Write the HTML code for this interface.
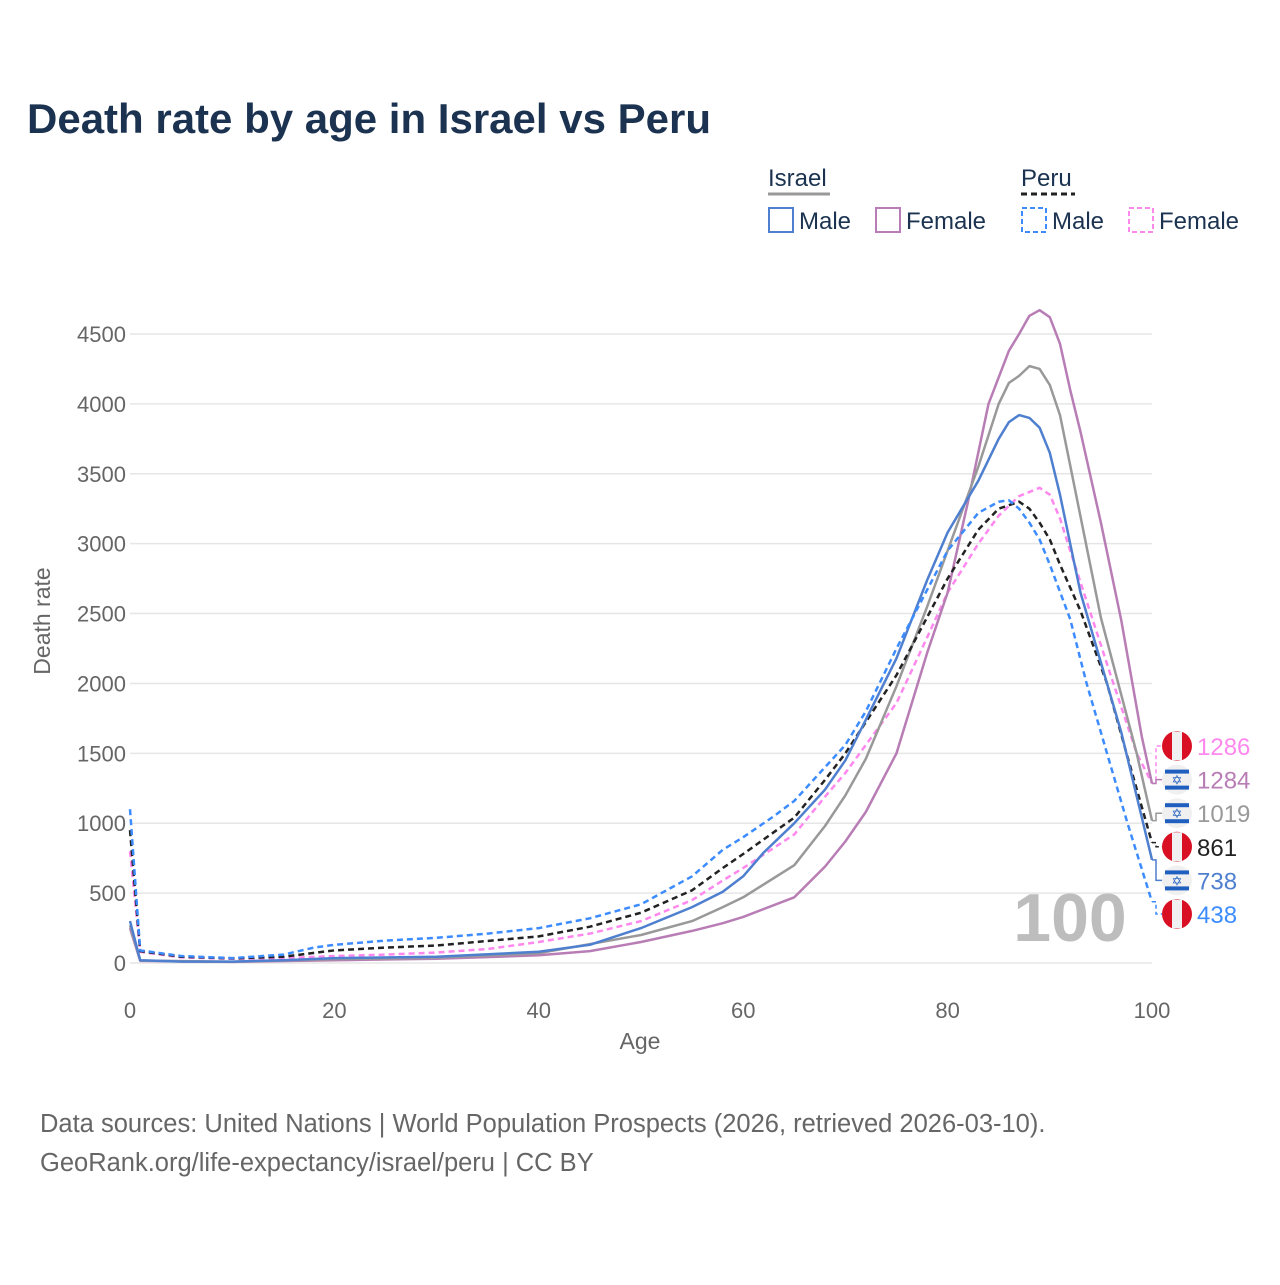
<!DOCTYPE html>
<html><head><meta charset="utf-8"><style>
body{margin:0;background:#fff;font-family:"Liberation Sans",sans-serif;}
svg text{font-family:"Liberation Sans",sans-serif;}
</style></head><body>
<svg id="chart" width="1280" height="1280" viewBox="0 0 1280 1280">
<text x="27" y="133" font-size="42" font-weight="bold" fill="#1b3350">Death rate by age in Israel vs Peru</text>
<g>
<text x="768" y="186" font-size="24" fill="#1b3350">Israel</text>
<line x1="768" y1="194" x2="830" y2="194" stroke="#999" stroke-width="3"/>
<text x="1021" y="186" font-size="24" fill="#1b3350">Peru</text>
<line x1="1021" y1="194" x2="1075" y2="194" stroke="#222" stroke-width="3" stroke-dasharray="6,4"/>
<g><rect x="769" y="208" width="24" height="24" fill="none" stroke="#4f7fcf" stroke-width="2"/><text x="799" y="229" font-size="24" fill="#1b3350">Male</text></g>
<g><rect x="876" y="208" width="24" height="24" fill="none" stroke="#b87db5" stroke-width="2"/><text x="906" y="229" font-size="24" fill="#1b3350">Female</text></g>
<g><rect x="1022" y="208" width="24" height="24" fill="none" stroke="#3d8cff" stroke-width="2" stroke-dasharray="5,3"/><text x="1052" y="229" font-size="24" fill="#1b3350">Male</text></g>
<g><rect x="1129" y="208" width="24" height="24" fill="none" stroke="#ff88ee" stroke-width="2" stroke-dasharray="5,3"/><text x="1159" y="229" font-size="24" fill="#1b3350">Female</text></g>
</g>
<g id="grid"></g>
<g id="series"></g>
<text x="1070" y="941" font-size="68" font-weight="bold" fill="#bdbdbd" text-anchor="middle">100</text>
<g id="labels"></g>
<text x="640" y="1049" font-size="23" fill="#666" text-anchor="middle">Age</text>
<text transform="translate(50,621) rotate(-90)" font-size="23" fill="#666" text-anchor="middle">Death rate</text>
<text x="40" y="1132" font-size="25.5" fill="#666">Data sources: United Nations | World Population Prospects (2026, retrieved 2026-03-10).</text>
<text x="40" y="1171" font-size="25.5" fill="#666">GeoRank.org/life-expectancy/israel/peru | CC BY</text>
</svg>
<script>
const xTicks=[0,20,40,60,80,100];
const yTicks=[0,500,1000,1500,2000,2500,3000,3500,4000,4500];
const ilMaleAges=[0,1,5,10,15,20,30,40,45,50,55,58,60,62,65,68,70,72,75,78,80,83,85,86,87,88,89,90,91,92,93,95,97,100];
const ilMaleVals=[300,20,10,10,20,35,45,80,130,250,400,510,620,790,1000,1240,1450,1740,2180,2740,3080,3450,3750,3870,3920,3900,3830,3650,3350,3000,2650,2150,1650,738];
const ilFemaleAges=[0,1,10,20,30,40,45,50,55,58,60,65,68,70,72,75,78,80,82,84,86,87,88,89,90,91,92,93,95,97,99,100];
const ilFemaleVals=[250,15,8,20,30,55,85,150,230,285,330,470,690,870,1080,1500,2220,2650,3300,4000,4380,4500,4630,4670,4620,4430,4100,3800,3150,2450,1620,1284];
const ilTotalAges=[0,1,10,20,30,40,50,55,58,60,65,68,70,72,75,78,80,83,85,86,87,88,89,90,91,92,95,98.5,100];
const ilTotalVals=[270,18,9,28,38,70,200,300,400,470,700,980,1200,1460,1980,2550,2950,3550,4000,4150,4200,4270,4250,4135,3920,3560,2470,1500,1019];
const peMaleAges=[0,1,5,10,15,18,20,25,30,35,40,45,50,55,58,60,63,65,67,70,72,75,80,83,85,86,87,88,89,90,92,93.6,95.6,97.6,100];
const peMaleVals=[1100,90,50,35,60,110,130,160,180,210,250,320,420,620,810,900,1050,1160,1320,1560,1800,2250,2950,3220,3300,3310,3250,3150,3030,2850,2460,2000,1500,1000,438];
const peFemaleAges=[0,1,5,10,15,20,25,30,35,40,45,50,55,58,60,65,68,70,75,78,80,83,85,87,89,90,91,92,94,96,98.5,100];
const peFemaleVals=[800,80,40,30,35,50,60,75,100,150,210,300,450,590,680,920,1190,1360,1860,2330,2650,3000,3200,3340,3400,3350,3180,2950,2500,2050,1500,1286];
const peTotalAges=[0,1,5,10,15,20,25,30,40,45,50,55,58,60,65,68,70,75,80,83,85,87,88,89,90,91,93,95.6,97.5,100];
const peTotalVals=[950,85,45,33,45,90,110,125,190,260,360,520,680,780,1040,1310,1500,2060,2750,3100,3250,3300,3250,3150,3030,2850,2520,2000,1500,861];
const endLabels=["1286","1284","1019","861","738","438"];

const NS="http://www.w3.org/2000/svg";
const X=a=>130+a*(1022/100);
const Y=v=>963-v*(629/4500);
function mk(t,attrs,parent){const e=document.createElementNS(NS,t);for(const k in attrs)e.setAttribute(k,attrs[k]);parent.appendChild(e);return e;}
const grid=document.getElementById('grid');
yTicks.forEach(v=>{
  const l=mk('line',{x1:130,x2:1152,y1:Y(v),y2:Y(v),stroke:'#e6e6e6','stroke-width':1.5},grid);
  
  
  const t=mk('text',{x:126,y:Y(v)+8,'font-size':22,fill:'#666','text-anchor':'end'},grid);
  t.textContent=v;
  
  
});
xTicks.forEach(a=>{
  const t=mk('text',{x:X(a),y:1018,'font-size':22,fill:'#666','text-anchor':'middle'},grid);
  t.textContent=a;
  
  
});
const series=document.getElementById('series');
const defs=[
 [peFemaleAges,peFemaleVals,'#ff88ee','6,4','peru-female-line'],
 [ilFemaleAges,ilFemaleVals,'#b87db5','','israel-female-line'],
 [ilTotalAges,ilTotalVals,'#999999','','israel-total-line'],
 [peTotalAges,peTotalVals,'#222222','6,4','peru-total-line'],
 [ilMaleAges,ilMaleVals,'#4f7fcf','','israel-male-line'],
 [peMaleAges,peMaleVals,'#3d8cff','6,4','peru-male-line']];
defs.forEach(d=>{
  const pts=d[0].map((a,i)=>X(a).toFixed(1)+','+Y(d[1][i]).toFixed(1)).join(' ');
  const p=mk('polyline',{points:pts,fill:'none',stroke:d[2],'stroke-width':2.5,'stroke-dasharray':d[3]||'none','stroke-linejoin':'round'},series);
  
  
});
const labels=document.getElementById('labels');
const labColors=['#ff88ee','#b87db5','#999999','#222222','#4f7fcf','#3d8cff'];
const labDash=['4,3','','','4,3','','4,3'];
const labFlag=['pe','il','il','pe','il','pe'];
const endVals=[1286,1284,1019,861,738,438];
endLabels.forEach((txt,i)=>{
  const ly=746+i*33.6;
  const ey=Y(endVals[i]);
  const c=mk('polyline',{points:`1152,${ey} 1156,${ey} 1156,${ly} 1162,${ly}`,fill:'none',stroke:labColors[i],'stroke-width':1.5,'stroke-dasharray':labDash[i]||'none'},labels);
  
  
  const g=mk('g',{},labels);
  
  
  const cx=1177;
  if(labFlag[i]==='pe'){
    mk('circle',{cx:cx,cy:ly,r:15,fill:'#d91023'},g);
    mk('rect',{x:cx-5,y:ly-14.5,width:10,height:29,fill:'#f0f0f0'},g);
  }else{
    mk('circle',{cx:cx,cy:ly,r:15,fill:'#f0f0f0'},g);
    mk('rect',{x:cx-12,y:ly-10,width:24,height:4,fill:'#1f5fbf'},g);
    mk('rect',{x:cx-12,y:ly+6,width:24,height:4,fill:'#1f5fbf'},g);
    const s=mk('text',{x:cx,y:ly+5,'font-size':13,fill:'#1f5fbf','text-anchor':'middle'},g);
    s.textContent='✡';
  }
  const t=mk('text',{x:1197,y:ly+9,'font-size':24,fill:labColors[i]},labels);
  t.textContent=txt;
  
  
});
</script>
</body></html>
